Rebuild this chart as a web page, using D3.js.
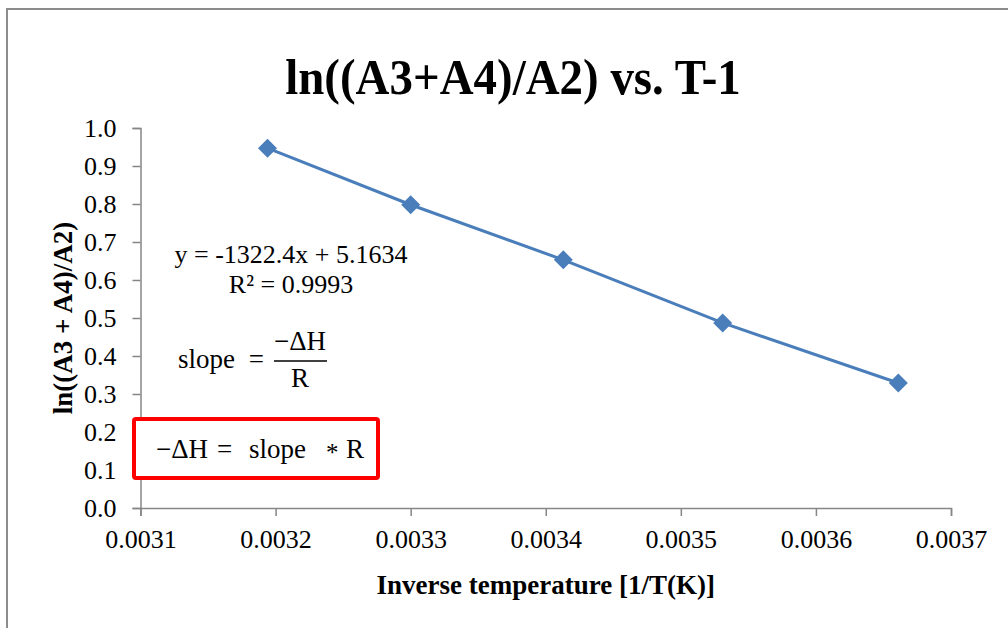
<!DOCTYPE html>
<html>
<head>
<meta charset="utf-8">
<script src="https://cdn.jsdelivr.net/npm/d3@7"></script>
<style>
  body { margin: 0; background: #fff; }
  svg { display: block; }
  text { font-family: "Liberation Serif", "Times New Roman", serif; }
</style>
</head>
<body>
<svg width="1008" height="628"></svg>
<script>
// data
var invTemp = [0.003194, 0.0033, 0.003413, 0.003531, 0.003661];
var lnRatio = [0.947, 0.798, 0.653, 0.487, 0.329];
var xTicks = [0.0031, 0.0032, 0.0033, 0.0034, 0.0035, 0.0036, 0.0037];
var yTicks = [0, 0.1, 0.2, 0.3, 0.4, 0.5, 0.6, 0.7, 0.8, 0.9, 1.0];

var title = 'ln((A3+A4)/A2) vs. T-1',
    xTitle = 'Inverse temperature [1/T(K)]',
    yTitle = 'ln((A3 + A4)/A2)',
    eqLine = 'y = -1322.4x + 5.1634',
    r2Line = 'R² = 0.9993';

var serif = '"Liberation Serif", "Times New Roman", serif';

var svg = d3.select('svg'),
    margin = {top: 128, right: 57, bottom: 120, left: 140.5},
    width = 1008 - margin.left - margin.right,
    height = 628 - margin.top - margin.bottom;

var blue = '#4a7ebb', axisGrey = '#868686';

// chart border
svg.append('rect')
    .attr('x', 7).attr('y', 9)
    .attr('width', 1020).attr('height', 640)
    .attr('fill', 'none')
    .attr('stroke', '#8c8c8c')
    .attr('stroke-width', 2);

var x = d3.scaleLinear().domain([0.0031, 0.0037]).range([0, width]),
    y = d3.scaleLinear().domain([0, 1]).range([height, 0]);

var g = svg.append('g')
    .attr('transform', 'translate(' + margin.left + ',' + margin.top + ')');

// x axis
var gx = g.append('g')
    .attr('transform', 'translate(0,' + height + ')')
    .call(d3.axisBottom(x).tickValues(xTicks).tickSize(8).tickPadding(14)
      .tickFormat(d3.format('.4f')));

// y axis
var gy = g.append('g')
    .call(d3.axisLeft(y).tickValues(yTicks).tickSize(8).tickPadding(16)
      .tickFormat(d3.format('.1f')));

[gx, gy].forEach(function(a) {
  a.attr('font-family', serif).attr('font-size', 26);
  a.select('.domain').attr('stroke', axisGrey).attr('stroke-width', 1.5);
  a.selectAll('.tick line').attr('stroke', axisGrey).attr('stroke-width', 1.5);
  a.selectAll('.tick text').attr('fill', '#000');
});

// line + diamonds
var pts = invTemp.map(function(d, i) { return {x: d, y: lnRatio[i]}; });

g.append('path')
    .datum(pts)
    .attr('fill', 'none')
    .attr('stroke', blue)
    .attr('stroke-width', 3)
    .attr('d', d3.line()
      .x(function(d) { return x(d.x); })
      .y(function(d) { return y(d.y); }));

g.selectAll('.pt')
    .data(pts)
    .enter().append('path')
      .attr('class', 'pt')
      .attr('fill', blue)
      .attr('transform', function(d) { return 'translate(' + x(d.x) + ',' + y(d.y) + ')'; })
      .attr('d', 'M0,-9.5L9.5,0L0,9.5L-9.5,0Z');

// titles (the original title font is a bit narrow, so squeeze it)
svg.append('text')
    .attr('transform', 'translate(513,94) scale(0.92,1)')
    .attr('text-anchor', 'middle')
    .attr('font-weight', 'bold')
    .attr('font-size', 51)
    .text(title);

svg.append('text')
    .attr('x', margin.left + width / 2).attr('y', 594)
    .attr('text-anchor', 'middle')
    .attr('font-weight', 'bold')
    .attr('font-size', 27)
    .text(xTitle);

svg.append('text')
    .attr('transform', 'translate(72,' + (margin.top + height / 2) + ') rotate(-90)')
    .attr('text-anchor', 'middle')
    .attr('font-weight', 'bold')
    .attr('font-size', 27)
    .text(yTitle);

// trendline label
svg.append('text')
    .attr('x', 291).attr('y', 263)
    .attr('text-anchor', 'middle')
    .attr('font-size', 26)
    .text(eqLine);
svg.append('text')
    .attr('x', 291).attr('y', 293)
    .attr('text-anchor', 'middle')
    .attr('font-size', 26)
    .text(r2Line);

// slope = -ΔH / R
svg.append('text')
    .attr('x', 178).attr('y', 368)
    .attr('font-size', 27)
    .text('slope');
svg.append('text')
    .attr('x', 264).attr('y', 368)
    .attr('text-anchor', 'end')
    .attr('font-size', 27)
    .text('=');
svg.append('text')
    .attr('x', 300).attr('y', 350)
    .attr('text-anchor', 'middle')
    .attr('font-size', 27)
    .text('−ΔH');
svg.append('line')
    .attr('x1', 274).attr('x2', 327)
    .attr('y1', 361).attr('y2', 361)
    .attr('stroke', '#000').attr('stroke-width', 1.5);
svg.append('text')
    .attr('x', 300).attr('y', 387)
    .attr('text-anchor', 'middle')
    .attr('font-size', 27)
    .text('R');

// red box
svg.append('rect')
    .attr('x', 134).attr('y', 419)
    .attr('width', 244).attr('height', 59)
    .attr('rx', 2)
    .attr('fill', '#fff')
    .attr('stroke', '#ff0000')
    .attr('stroke-width', 4);

var boxText = svg.append('text')
    .attr('y', 458)
    .attr('font-size', 27);
boxText.append('tspan').attr('x', 156).text('−ΔH');
boxText.append('tspan').attr('x', 217).text('=');
boxText.append('tspan').attr('x', 249).text('slope');
boxText.append('tspan').attr('x', 326).attr('dy', 3).attr('font-size', 25).text('*');
boxText.append('tspan').attr('x', 346).attr('dy', -3).text('R');
</script>
</body>
</html>
